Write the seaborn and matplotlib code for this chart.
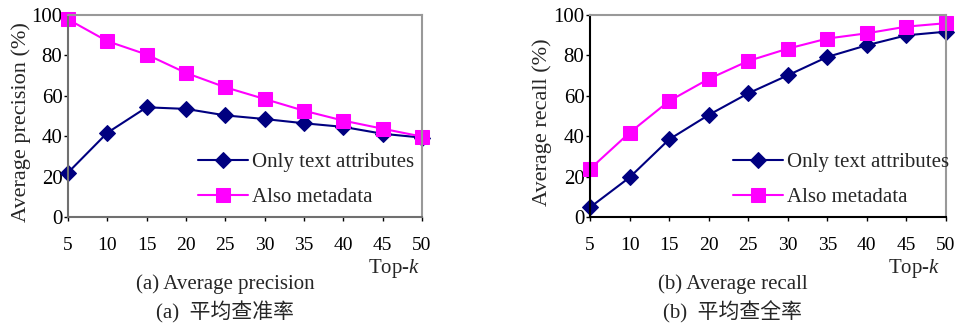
import pandas as pd
import seaborn as sns
import matplotlib.pyplot as plt

sns.set_style("white")
plt.rcParams['font.family'] = ['Liberation Serif', 'Noto Sans CJK SC']
plt.rcParams['mathtext.fontset'] = 'custom'
plt.rcParams['mathtext.rm'] = 'Liberation Serif'
plt.rcParams['mathtext.it'] = 'Liberation Serif:italic'

# Top-k values on the x axis
top_k = [5, 10, 15, 20, 25, 30, 35, 40, 45, 50]

# (a) Average precision (%)
prec_text = [22, 41.7, 54.3, 53.5, 50.3, 48.5, 46.4, 44.6, 41.2, 39.3]
prec_meta = [97.8, 87, 80.4, 71.3, 64.2, 58.4, 52.6, 47.7, 43.7, 39.8]

# (b) Average recall (%)
rec_text = [4.8, 19.6, 38.4, 50.5, 61.2, 70.1, 79.2, 85, 89.9, 91.7]
rec_meta = [23.8, 41.7, 57.4, 68.3, 77.2, 83.3, 88.3, 90.9, 94.2, 95.9]

series_names = ['Only text attributes', 'Also metadata']
ylabels = ['Average precision (%)', 'Average recall (%)']
captions_en = ['(a) Average precision', '(b) Average recall']
captions_cn = ['(a)  平均查准率', '(b)  平均查全率']

fig = plt.figure(figsize=(9.62, 3.24), dpi=100)
ax1 = fig.add_axes([0.0707, 0.330, 0.368, 0.624])
ax2 = fig.add_axes([0.6133, 0.330, 0.370, 0.624])

# axes, data, spine colour, legend left edge, ylabel x (axes fraction)
panels = [(ax1, prec_text, prec_meta, '#707070', 0.367, -0.104),
          (ax2, rec_text, rec_meta, 'black', 0.402, -0.108)]

for i, (ax, s_text, s_meta, spine_col, leg_x, lab_x) in enumerate(panels):
    df = pd.DataFrame({'k': top_k, 'text': s_text, 'meta': s_meta})
    sns.lineplot(data=df, x='k', y='text', ax=ax, color='#000080', marker='D',
                 markersize=8, markeredgecolor='#000080', linewidth=1.5,
                 label=series_names[0], clip_on=False)
    sns.lineplot(data=df, x='k', y='meta', ax=ax, color='#FF00FF', marker='s',
                 markersize=10, markeredgecolor='#FF00FF', linewidth=1.5,
                 label=series_names[1], clip_on=False)
    ax.set_xlim(5, 50)
    ax.set_ylim(0, 100)
    ax.set_xticks(top_k)
    ax.set_yticks(range(0, 101, 20))
    ax.tick_params(axis='both', length=3, width=1, direction='out',
                   bottom=True, left=True, colors='black')
    ax.tick_params(axis='y', labelsize=15, pad=1)
    ax.tick_params(axis='x', labelsize=14, pad=11)
    ax.set_xlabel('')
    ax.set_ylabel(ylabels[i], fontsize=16)
    ax.yaxis.set_label_coords(lab_x, 0.47)
    for side in ['top', 'right']:
        ax.spines[side].set_color('#999999')
        ax.spines[side].set_linewidth(1.5)
    for side in ['left', 'bottom']:
        ax.spines[side].set_color(spine_col)
        ax.spines[side].set_linewidth(1.5)
    ax.legend(loc='center left', bbox_to_anchor=(leg_x, 0.184), frameon=False,
              fontsize=15, handlelength=2.4, handletextpad=0.2,
              labelspacing=0.74, borderpad=0, borderaxespad=0)
    ax.set_facecolor('white')

# axis titles and captions under each panel
for cx, cap_en, cap_cn, tx in [(225, captions_en[0], captions_cn[0], 394),
                               (733, captions_en[1], captions_cn[1], 914)]:
    fig.text(tx / 962, 1 - 268 / 324, 'Top-$k$', fontsize=15, ha='center', va='center')
    fig.text(cx / 962, 1 - 284 / 324, cap_en, fontsize=15, ha='center', va='center')
    fig.text(cx / 962, 1 - 312 / 324, cap_cn, fontsize=15, ha='center', va='center')

fig.savefig('out.png', dpi=100)
